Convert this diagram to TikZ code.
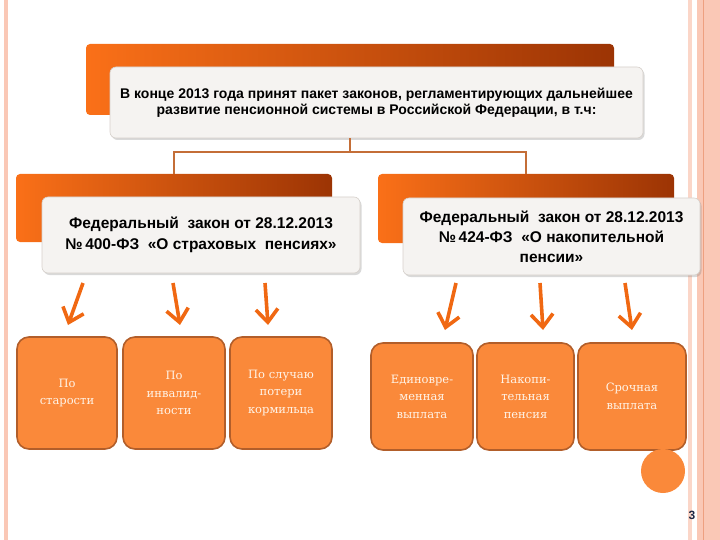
\documentclass[tikz,border=0pt]{standalone}
\usepackage{fontspec}
\setmainfont{DejaVu Serif}
\newfontfamily\headfont{Liberation Sans}
\usepackage{tikz}
\usetikzlibrary{calc, arrows.meta, shadows}
\usepackage{xcolor}

\definecolor{lawOrange}{RGB}{250,112,24}
\definecolor{lawMid}{RGB}{236,96,12}
\definecolor{lawDark}{RGB}{156,52,4}
\definecolor{cardFill}{RGB}{245,243,241}
\definecolor{cardEdge}{RGB}{214,208,203}
\definecolor{linkBrown}{RGB}{196,110,55}
\definecolor{arrowOrange}{RGB}{240,104,18}
\definecolor{kindFill}{RGB}{250,137,58}
\definecolor{kindEdge}{RGB}{178,94,42}
\definecolor{kindText}{RGB}{255,244,232}
\definecolor{stripPink}{RGB}{250,200,182}
\definecolor{stripLight}{RGB}{251,214,200}
\definecolor{stripLine}{RGB}{238,160,128}
\definecolor{pageNavy}{RGB}{30,38,66}

\begin{document}
\begin{tikzpicture}[x=1pt, y=-1pt, font=\headfont\bfseries,
    band/.style={rounded corners=4pt, left color=lawOrange, middle color=lawMid, right color=lawDark},
    card/.style={rounded corners=6pt, fill=cardFill, draw=cardEdge, line width=0.6pt,
        drop shadow={shadow xshift=1.5pt, shadow yshift=-2pt, opacity=0.3},
        align=center, text=black},
    link/.style={draw=linkBrown, line width=1.3pt},
    pointer/.style={draw=arrowOrange, line width=3.6pt,
        -{Straight Barb[length=13pt, width=22pt]}},
    kind/.style={rounded corners=12pt, fill=kindFill, draw=kindEdge, line width=1.6pt,
        align=center, text=kindText, inner sep=2pt,
        font=\normalfont\fontsize{11.5}{17.5}\selectfont}]

    % ==========================================
    % PAGE FRAME
    % ==========================================

    \useasboundingbox (0,0) rectangle (720,540);

    % pink strip on the left, double strip on the right
    \fill[stripPink] (4,0) rectangle (8,540);
    \fill[stripLight] (688,0) rectangle (692,540);
    \fill[stripPink] (697,0) rectangle (720,540);
    \draw[stripLine, line width=1pt] (703,0) -- (703,540);

    % ==========================================
    % HEADER AND THE TWO LAWS
    % ==========================================

    % orange bands behind the cards
    \node[band, minimum width=528pt, minimum height=71pt] (topband) at (350,79.5) {};
    \node[band, minimum width=316pt, minimum height=68pt] (oldband) at (174,208) {};
    \node[band, minimum width=296pt, minimum height=69pt] (fundband) at (526,208.5) {};

    % light cards with the texts
    \node[card, minimum width=533pt, minimum height=71pt,
          font=\headfont\bfseries\fontsize{14}{16.5}\selectfont] (topcard) at (376.5,102.5)
        {В конце 2013 года принят пакет законов, регламентирующих дальнейшее\\
         развитие пенсионной системы в Российской Федерации, в т.ч:};
    \node[card, minimum width=318pt, minimum height=76pt,
          font=\headfont\bfseries\fontsize{15.5}{21}\selectfont] (oldcard) at (201,235)
        {Федеральный\ \ закон от 28.12.2013\\
         №\,400-ФЗ\ \ «О страховых\ \ пенсиях»};
    \node[card, minimum width=297pt, minimum height=77pt,
          font=\headfont\bfseries\fontsize{15.5}{20}\selectfont] (fundcard) at (551.5,236.5)
        {Федеральный\ \ закон от 28.12.2013\\
         №\,424-ФЗ\ \ «О накопительной\\
         пенсии»};

    % fork from the header down to both laws
    \coordinate (fork) at (350,152);
    \draw[link] (topcard.south -| topband.center) -- (fork) -| (oldband.north);
    \draw[link] (fork) -| (fundband.north);

    % ==========================================
    % KINDS OF PENSIONS
    % ==========================================

    \node[kind, minimum width=100pt, minimum height=112pt] (age) at (67,393)
        {По\\старости};
    \node[kind, minimum width=102pt, minimum height=112pt] (disab) at (174,393)
        {По\\инвалид-\\ности};
    \node[kind, minimum width=102pt, minimum height=112pt] (loss) at (281,393)
        {По случаю\\потери\\кормильца};
    \node[kind, minimum width=102pt, minimum height=107pt] (lump) at (422,396.5)
        {Единовре-\\менная\\выплата};
    \node[kind, minimum width=97pt, minimum height=107pt] (funded) at (525.5,396.5)
        {Накопи-\\тельная\\пенсия};
    \node[kind, minimum width=108pt, minimum height=107pt] (term) at (632,396.5)
        {Срочная\\выплата};

    % arrow tails under the cards and heads over the boxes
    \coordinate (tail1) at (83,283);  \coordinate (head1) at (68,325);
    \coordinate (tail2) at (173,283); \coordinate (head2) at (180,325);
    \coordinate (tail3) at (265,283); \coordinate (head3) at (268,325);
    \coordinate (tail4) at (456,283); \coordinate (head4) at (445,330);
    \coordinate (tail5) at (540,283); \coordinate (head5) at (543,330);
    \coordinate (tail6) at (625,283); \coordinate (head6) at (632,330);

    \foreach \i in {1,...,6}
        \draw[pointer] (tail\i) -- (head\i);

    % round mark and page number
    \fill[kindFill] (663,471) circle (22pt);
    \node[text=pageNavy, font=\headfont\bfseries\fontsize{12}{13}\selectfont] (pagenum) at (692,515) {3};

\end{tikzpicture}
\end{document}
